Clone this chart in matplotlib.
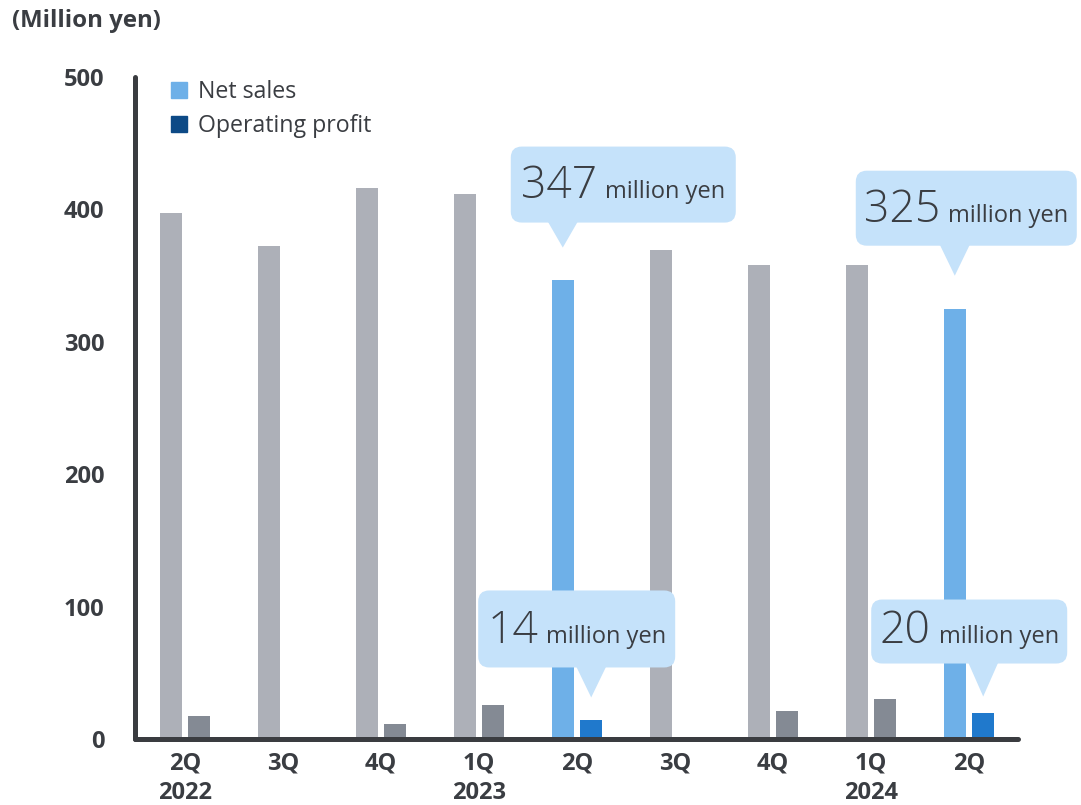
import matplotlib
matplotlib.use('Agg')
import matplotlib.pyplot as plt
import matplotlib.transforms as mtransforms
from matplotlib.patches import FancyBboxPatch, Polygon, Patch

plt.rcParams['font.family'] = ['Open Sans', 'DejaVu Sans']

# ---- data -------------------------------------------------------------
quarters = ['2Q', '3Q', '4Q', '1Q', '2Q', '3Q', '4Q', '1Q', '2Q']
years = ['2022', '', '', '2023', '', '', '', '2024', '']
net_sales = [397, 372, 416, 412, 347, 369, 358, 358, 325]
operating_profit = [17, 1, 11, 26, 14, 0, 21, 30, 20]
highlighted = [4, 8]

# ---- styles -----------------------------------------------------------
DARK = '#3a3d42'
GRAY_NET = '#adb0b8'
GRAY_OP = '#848a94'
BLUE_NET = '#6eb0e8'
BLUE_OP = '#2079cc'
LEGEND_OP = '#0d4a86'
BUBBLE = '#c5e2fa'

W, H = 1081, 805
fig = plt.figure(figsize=(W / 100, H / 100), dpi=100)
ax = fig.add_axes([135 / W, (H - 739) / H, (1018 - 135) / W, (739 - 77) / H])

bar_w = 0.228
off = 0.145
xs = list(range(len(quarters)))
for i in xs:
    hi = i in highlighted
    ax.bar(i - off, net_sales[i], bar_w, color=BLUE_NET if hi else GRAY_NET, zorder=1)
    ax.bar(i + off, operating_profit[i], bar_w, color=BLUE_OP if hi else GRAY_OP, zorder=1)

ax.set_xlim(-0.51, 8.5)
ax.set_ylim(0, 500)

for side in ('top', 'right'):
    ax.spines[side].set_visible(False)
for side in ('left', 'bottom'):
    ax.spines[side].set_color('#3a3c40')
    ax.spines[side].set_linewidth(3.6)
    ax.spines[side].set_capstyle('round')
    ax.spines[side].set_zorder(3)

ax.set_yticks([0, 100, 200, 300, 400, 500])
ax.tick_params(axis='y', length=0, pad=22, labelsize=17, labelcolor=DARK)
ax.set_xticks(xs)
ax.set_xticklabels([q + ('\n' + y if y else '') for q, y in zip(quarters, years)],
                   linespacing=1.33)
ax.tick_params(axis='x', length=0, pad=9, labelsize=17, labelcolor=DARK)
for lab in ax.get_yticklabels() + ax.get_xticklabels():
    lab.set_fontweight('bold')
for lab in ax.get_xticklabels():
    lab.set_verticalalignment('top')

fig.text(12 / W, 1 - 21 / H, '(Million yen)', fontsize=17.3, fontweight='bold',
         color=DARK, ha='left', va='center')

ax.legend(handles=[Patch(color=BLUE_NET, label='Net sales'),
                   Patch(color=LEGEND_OP, label='Operating profit')],
          loc='upper left', bbox_to_anchor=(171 / W, 1 - 80 / H),
          bbox_transform=fig.transFigure, frameon=False, fontsize=16.7,
          handlelength=0.7, handleheight=0.7, handletextpad=0.45,
          labelspacing=0.45, borderpad=0, borderaxespad=0, labelcolor=DARK)

# ---- speech-bubble callouts ------------------------------------------
renderer = fig.canvas.get_renderer()


def callout(xc, value, gap, left, right, top, bottom):
    """Bubble whose pointer sits `gap` px above the bar top at (xc, value).
    Box extents are px offsets from the pointer tip (y up)."""
    trans = mtransforms.IdentityTransform() + \
        mtransforms.ScaledTranslation(xc, value, ax.transData)
    ty = gap
    box = FancyBboxPatch((left, ty + bottom), right - left, top - bottom,
                         boxstyle='round,pad=0,rounding_size=11',
                         transform=trans, facecolor=BUBBLE, edgecolor='none',
                         zorder=5, clip_on=False)
    fig.add_artist(box)
    tri = Polygon([(-15, ty + bottom + 1), (15, ty + bottom + 1), (0, ty)],
                  closed=True, transform=trans, facecolor=BUBBLE,
                  edgecolor='none', zorder=5, clip_on=False)
    fig.add_artist(tri)

    base = ty + bottom + 0.32 * (top - bottom)
    t_num = fig.text(0, 0, f'{value}', fontsize=32, color=DARK,
                     fontweight='light', ha='left', va='baseline',
                     transform=trans, zorder=6)
    t_unit = fig.text(0, 0, 'million yen', fontsize=17, color=DARK,
                      ha='left', va='baseline', transform=trans, zorder=6)
    wn = t_num.get_window_extent(renderer).width
    wu = t_unit.get_window_extent(renderer).width
    space = 8
    total = wn + space + wu
    x0 = (left + right) / 2 - total / 2
    t_num.set_position((x0, base))
    t_unit.set_position((x0 + wn + space, base))


callout(4 - off, net_sales[4], 32, -52, 173, 101, 25)
callout(8 - off, net_sales[8], 33, -99, 122, 105, 30)
callout(4 + off, operating_profit[4], 23, -113, 84, 107, 30)
callout(8 + off, operating_profit[8], 16, -112, 84, 97, 33)

fig.savefig('out.png', dpi=100)
